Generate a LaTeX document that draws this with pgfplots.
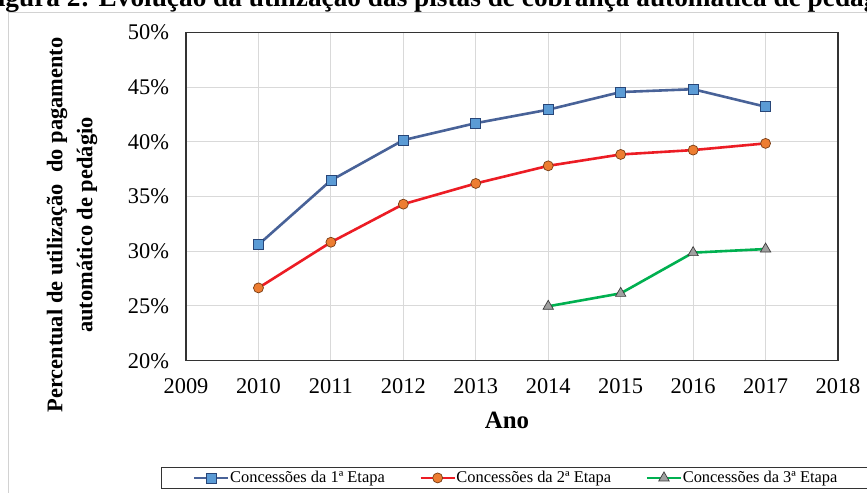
\documentclass[border=0pt]{standalone}
\usepackage{pgfplots}
\pgfplotsset{compat=1.18}
\usepackage{fontspec}
\setmainfont{Liberation Serif}
\definecolor{bline}{RGB}{72,98,152}
\definecolor{bfill}{RGB}{91,155,213}
\definecolor{bedge}{RGB}{40,70,120}
\definecolor{rline}{RGB}{236,28,36}
\definecolor{ofill}{RGB}{237,125,49}
\definecolor{oedge}{RGB}{120,60,20}
\definecolor{gline}{RGB}{0,176,80}
\definecolor{tfill}{RGB}{160,160,160}
\definecolor{tedge}{RGB}{60,60,60}
\definecolor{gridc}{RGB}{217,217,217}
\definecolor{framec}{RGB}{210,210,210}
\begin{document}
\begin{tikzpicture}[x=1bp,y=1bp]
\useasboundingbox (0,0) rectangle (867,493);
\fill[white] (0,0) rectangle (867,493);
% title (partly cut off at top, as in the reference)
\node[anchor=base west,inner sep=0pt,font=\fontsize{27.4}{30}\selectfont\bfseries] at (-19,486) {Figura 2: Evolução da utilização das pistas de cobrança automática de pedágio};
% outer chart frame
\draw[framec,line width=1bp] (8,-5) -- (8,480.7) -- (872,480.7);
% y label
\node[rotate=90,align=center,inner sep=0pt,font=\fontsize{22.5}{30}\selectfont\bfseries] at (72,268) {Percentual de utilização\ \ do pagamento\\automático de pedágio};
\begin{axis}[
  at={(186bp,132.3bp)}, anchor=south west,
  scale only axis, width=652bp, height=328.4bp,
  xmin=2009, xmax=2018, ymin=20, ymax=50,
  xtick={2009,2010,...,2018}, ytick={20,25,...,50},
  major tick length=0pt,
  grid=major, grid style={gridc,line width=1bp},
  axis line style={black!80,line width=1.1bp},
  /pgf/number format/1000 sep={},
  /pgf/number format/assume math mode=true,
  yticklabel={\pgfmathprintnumber{\tick}\%},
  tick label style={font=\fontsize{22.5}{26}\selectfont},
  yticklabel style={xshift=-13.5bp},
  xticklabel style={yshift=-14bp},
  xlabel={Ano},
  xlabel style={font=\fontsize{25}{28}\selectfont\bfseries, at={(axis description cs:0.4923,0)}, yshift=-48bp},
  legend columns=3,
  legend style={at={(axis description cs:0.5054,-0.357)}, anchor=center,
    draw=black!80, line width=0.8bp, font=\fontsize{16.5}{19}\selectfont,
    inner xsep=32bp, inner ysep=3.5bp,
    nodes={inner sep=0.5bp, anchor=west},
    /tikz/every even column/.append style={column sep=34bp}},
  legend cell align=left,
  legend image code/.code={\draw[mark repeat=2,mark phase=2,#1] plot coordinates {(0bp,0bp) (17bp,0bp) (34bp,0bp)};},
]
\addplot[bline, line width=2.6bp, mark=square*, mark size=5bp, mark options={fill=bfill,draw=bedge,line width=0.7bp}]
coordinates {(2010,30.6) (2011,36.47) (2012,40.15) (2013,41.7) (2014,42.93) (2015,44.54) (2016,44.8) (2017,43.2)};
\addlegendentry{Concessões da 1ª Etapa}
\addplot[rline, line width=2.6bp, mark=*, mark size=5bp, mark options={fill=ofill,draw=oedge,line width=0.7bp}]
coordinates {(2010,26.65) (2011,30.82) (2012,34.3) (2013,36.19) (2014,37.8) (2015,38.84) (2016,39.24) (2017,39.85)};
\addlegendentry{Concessões da 2ª Etapa}
\addplot[gline, line width=2.6bp, mark=triangle*, mark size=6bp, mark options={fill=tfill,draw=tedge,line width=0.7bp}]
coordinates {(2014,24.97) (2015,26.15) (2016,29.87) (2017,30.2)};
\addlegendentry{Concessões da 3ª Etapa}
\end{axis}
\end{tikzpicture}
\end{document}
